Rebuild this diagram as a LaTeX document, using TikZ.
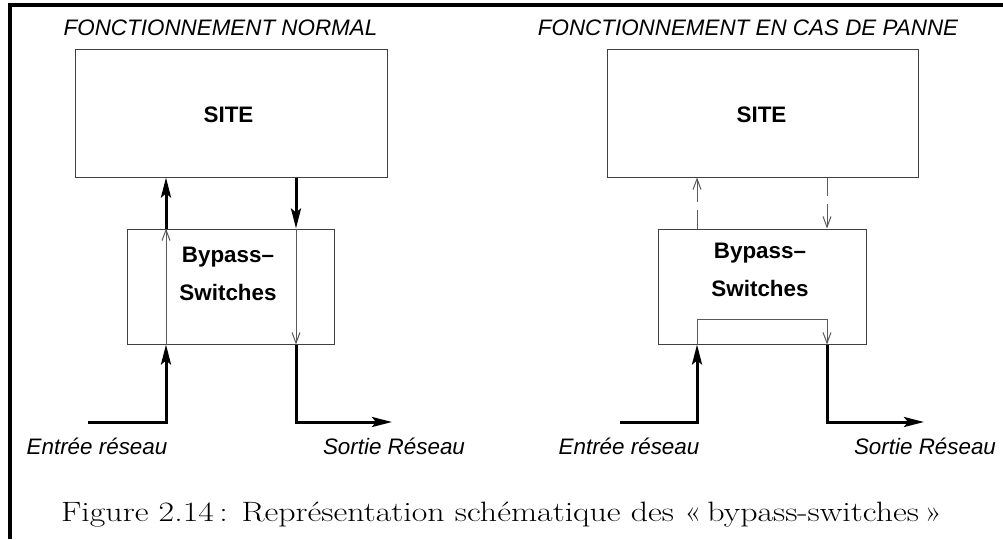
\documentclass[tikz,border=0pt]{standalone}
\usepackage{fontspec}
\newfontfamily\figsans{Liberation Sans}
\usetikzlibrary{arrows.meta,fit}

\tikzset{
  box/.style={draw=black!75, line width=0.75pt, inner sep=0pt},
  flow/.style={line width=2.25pt, -{Stealth[length=15pt,width=7.5pt,inset=3pt]}},
  thinflow/.style={draw=black!65, line width=0.75pt, -{Straight Barb[length=8pt,width=6pt]}},
  idle/.style={thinflow, dash pattern=on 14pt off 6pt on 40pt},
  title/.style={font=\figsans\itshape\fontsize{16.8}{20}\selectfont, anchor=base, inner sep=0pt},
  heading/.style={font=\figsans\bfseries\fontsize{16.8}{28.5}\selectfont, align=center, inner sep=0pt},
  frame/.style={line width=3pt}
}

\begin{document}
\begin{tikzpicture}[x=0.75pt, y=-0.75pt]
\useasboundingbox (0,0) rectangle (1003,539);

% page frame (left and top rules)
\draw[frame] (10,539) -- (10,5) -- (1003,5);

% ---------- normal operation ----------
\node[title] (titleL) at (220.5,35) {FONCTIONNEMENT NORMAL};
\node[box, fit={(75,49) (387,177)}] (siteL) {};
\node[heading, anchor=base] (siteLt) at (228.5,122) {SITE};
\node[box, fit={(127,229) (334,344)}] (bypL) {};
\node[heading, anchor=north] (bypLt) at (228,246.5) {Bypass–\\Switches};

\coordinate (upL) at (166,300);
\coordinate (dnL) at (296,300);
\coordinate (srcL) at (88,422);
\coordinate (dstL) at (392,422);

\draw[thinflow] (bypL.south -| upL) -- (bypL.north -| upL);
\draw[thinflow] (bypL.north -| dnL) -- (bypL.south -| dnL);
\draw[flow] (bypL.north -| upL) -- (siteL.south -| upL);
\draw[flow] (siteL.south -| dnL) -- (bypL.north -| dnL);
\draw[flow] (srcL) -| (bypL.south -| upL);
\draw[flow] (bypL.south -| dnL) |- (dstL);

\node[title] (inLt) at (97,454) {Entrée réseau};
\node[title] (outLt) at (394,454) {Sortie Réseau};

% ---------- failure mode ----------
\node[title] (titleR) at (748,35) {FONCTIONNEMENT EN CAS DE PANNE};
\node[box, fit={(607,49) (918,177)}] (siteR) {};
\node[heading, anchor=base] (siteRt) at (761.5,122) {SITE};
\node[box, fit={(658,229) (866,344)}] (bypR) {};
\node[heading, anchor=north] (bypRt) at (760,243) {Bypass–\\Switches};

\coordinate (upR) at (697,300);
\coordinate (dnR) at (827,300);
\coordinate (srcR) at (620,422);
\coordinate (dstR) at (924,422);

\draw[idle] (bypR.north -| upR) -- (siteR.south -| upR);
\draw[idle] (siteR.south -| dnR) -- (bypR.north -| dnR);
\draw[thinflow] (bypR.south -| upR) -- ++(0,-25) -| (bypR.south -| dnR);
\draw[flow] (srcR) -| (bypR.south -| upR);
\draw[flow] (bypR.south -| dnR) |- (dstR);

\node[title] (inRt) at (629,454) {Entrée réseau};
\node[title] (outRt) at (925,454) {Sortie Réseau};

% caption
\node[font=\fontsize{21}{25}\selectfont, anchor=base, inner sep=0pt] (caption) at (501.5,521)
  {\scalebox{1.21}[1]{Figure 2.14\,: Représentation schématique des «\,bypass-switches\,»}};
\end{tikzpicture}
\end{document}
